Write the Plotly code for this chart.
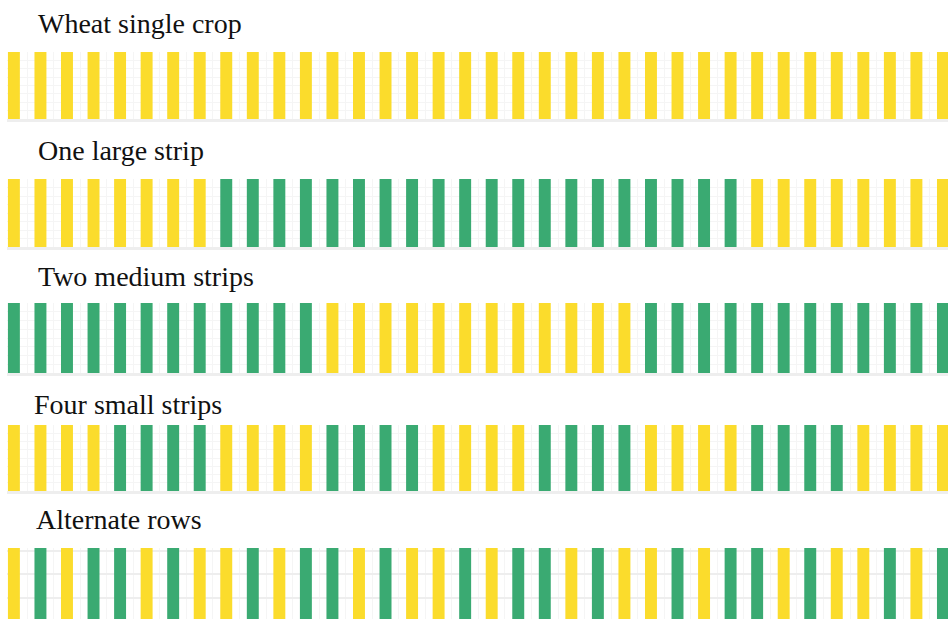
import plotly.graph_objects as go

# Field layouts: 36 rows per field, W = wheat, B = bean
positions = list(range(36))
titles = ["Wheat single crop", "One large strip", "Two medium strips",
          "Four small strips", "Alternate rows"]
wheat_single = list("WWWWWWWWWWWWWWWWWWWWWWWWWWWWWWWWWWWW")
one_large = list("WWWWWWWWBBBBBBBBBBBBBBBBBBBBWWWWWWWW")
two_medium = list("BBBBBBBBBBBBWWWWWWWWWWWWBBBBBBBBBBBB")
four_small = list("WWWWBBBBWWWWBBBBWWWWBBBBWWWWBBBBWWWW")
alternate = list("WBWBBWBWWBWBBWBWWBWBBWBWWBWBBWBWWBWB")
layouts = [wheat_single, one_large, two_medium, four_small, alternate]
heights = [1] * 36

colors = {"W": "#FBDC2C", "B": "#3AAA72"}

H = 619
# pixel bands for each panel (top, bottom) and title centre
bands = [(52, 119), (179, 247), (303, 373), (425, 491), (548, 619)]
title_y = [24, 150, 277, 404, 519]
title_x = [36, 36, 36, 32, 34]

fig = go.Figure()
for i, rows in enumerate(layouts):
    n = "" if i == 0 else str(i + 1)
    fig.add_trace(go.Bar(
        x=positions, y=heights,
        marker=dict(color=[colors[c] for c in rows], line=dict(width=0)),
        width=0.45, xaxis="x" + n, yaxis="y" + n,
        showlegend=False, hoverinfo="skip",
    ))
    top, bot = bands[i]
    fig.layout["xaxis" + n] = dict(
        domain=[7 / 948, 1], range=[-0.26, 35.19], anchor="y" + n,
        showticklabels=False, ticks="", zeroline=False,
        showgrid=True, gridcolor="#f5f5f5", gridwidth=1,
        tickvals=[p + 0.5 for p in positions],
        showline=True, linecolor="#eeeeee", linewidth=3,
    )
    if i == 4:
        ygrid = dict(tickvals=[0.29, 0.63, 0.96], gridcolor="#eeeeee", gridwidth=2)
    else:
        ygrid = dict(dtick=0.125, gridcolor="#f5f5f5", gridwidth=1)
    fig.layout["yaxis" + n] = dict(
        domain=[1 - bot / H, 1 - top / H], range=[0, 1], anchor="x" + n,
        showticklabels=False, ticks="", zeroline=False, showgrid=True,
        **ygrid,
    )
    fig.add_annotation(
        text=titles[i], xref="paper", yref="paper",
        x=title_x[i] / 948, y=1 - title_y[i] / H,
        xanchor="left", yanchor="middle", showarrow=False,
        font=dict(family="Liberation Serif, serif", size=28, color="#111111"),
    )

fig.update_layout(
    width=948, height=619,
    margin=dict(l=0, r=0, t=0, b=0),
    paper_bgcolor="white", plot_bgcolor="white",
    bargap=0.55,
)

fig.write_html("out.html", config={"displayModeBar": False},
               post_script="document.body.style.margin='0';")
